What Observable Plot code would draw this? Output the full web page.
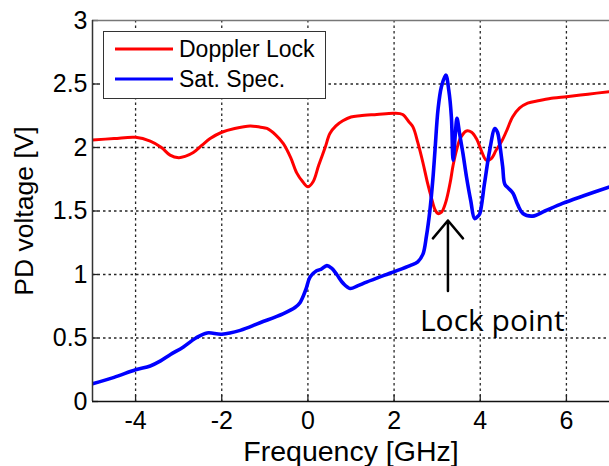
<!DOCTYPE html>
<html>
<head>
<meta charset="utf-8">
<script src="https://cdn.jsdelivr.net/npm/d3@7"></script>
<script src="https://cdn.jsdelivr.net/npm/@observablehq/plot@0.6"></script>
<style>
  html, body { margin: 0; padding: 0; background: #fff; }
  #chart svg { display: block; }
</style>
</head>
<body>
<div id="chart"></div>
<script>
// Doppler Lock (red) trace: [frequency GHz, PD voltage V]
const dopplerX = [-5.0,-4.5,-4.0,-3.66,-3.4,-3.2,-3.0,-2.85,-2.66,-2.45,-2.27,-2.0,-1.7,-1.34,-1.1,-0.95,-0.75,-0.57,-0.4,-0.26,-0.12,0.0,0.12,0.25,0.4,0.51,0.65,0.81,1.0,1.21,1.6,2.0,2.2,2.35,2.44,2.55,2.67,2.77,2.87,2.95,3.02,3.1,3.2,3.3,3.37,3.45,3.55,3.68,3.8,3.91,4.02,4.14,4.25,4.37,4.5,4.61,4.75,4.91,5.1,5.38,5.7,6.0,6.5,7.0];
const dopplerY = [2.06,2.07,2.08,2.05,2.0,1.94,1.92,1.93,1.96,2.02,2.07,2.12,2.15,2.17,2.16,2.15,2.1,2.03,1.92,1.8,1.73,1.69,1.73,1.86,2.0,2.11,2.17,2.21,2.24,2.25,2.26,2.27,2.26,2.2,2.16,2.04,1.88,1.73,1.6,1.51,1.48,1.49,1.57,1.72,1.86,1.98,2.08,2.13,2.12,2.07,1.98,1.9,1.91,1.98,2.05,2.13,2.24,2.31,2.35,2.37,2.39,2.4,2.42,2.44];

// Sat. Spec. (blue) trace
const satX = [-5.0,-4.5,-4.0,-3.66,-3.42,-3.19,-2.89,-2.6,-2.34,-2.0,-1.57,-1.11,-0.58,-0.3,-0.18,-0.05,0.05,0.2,0.3,0.44,0.55,0.67,0.82,0.98,1.15,1.36,1.9,2.37,2.55,2.67,2.75,2.83,2.9,2.95,3.02,3.1,3.2,3.27,3.33,3.37,3.42,3.46,3.52,3.6,3.68,3.78,3.87,3.95,3.99,4.1,4.22,4.34,4.4,4.45,4.52,4.57,4.65,4.76,4.87,4.99,5.22,5.5,5.91,6.4,7.0];
const satY = [0.14,0.19,0.25,0.28,0.32,0.37,0.43,0.5,0.54,0.53,0.56,0.62,0.69,0.74,0.78,0.88,0.98,1.03,1.04,1.07,1.05,1.0,0.93,0.89,0.91,0.94,1.01,1.07,1.1,1.16,1.3,1.5,1.75,1.98,2.3,2.48,2.57,2.45,2.24,1.9,2.1,2.23,2.11,1.95,1.77,1.58,1.44,1.46,1.48,1.72,1.98,2.15,2.12,2.03,1.85,1.71,1.68,1.64,1.55,1.48,1.46,1.5,1.56,1.62,1.69];

// Axis ticks
const xTicks = [-4, -2, 0, 2, 4, 6];
const yTicks = [0, 0.5, 1, 1.5, 2, 2.5, 3];
const xGrid = [-4, -2, 0, 2, 4, 6];
const yGrid = [0.5, 1, 1.5, 2, 2.5];

// Series names and colours
const seriesNames = ["Doppler Lock", "Sat. Spec."];
const seriesColors = ["#ff0000", "#0000ff"];

// Annotation (data coordinates)
const lockArrow = [{x1: 3.25, y1: 0.87, x2: 3.25, y2: 1.425}];
const lockLabel = [{x: 2.6, y: 0.63, text: "Lock point"}];

const doppler = dopplerX.map((x, i) => ({x, y: dopplerY[i]}));
const sat = satX.map((x, i) => ({x, y: satY[i]}));

const W = 609, H = 466;
const mL = 92, mR = 0, mT = 20, mB = 65;
const innerW = W - mL - mR, innerH = H - mT - mB;
const tickLen = 6;
const font = "Arial, 'Liberation Sans', sans-serif";

const plot = Plot.plot({
  width: W,
  height: H,
  marginLeft: mL,
  marginRight: mR,
  marginTop: mT,
  marginBottom: mB,
  style: {fontFamily: font, fontSize: "25px", background: "white", color: "black", overflow: "visible"},
  x: {domain: [-5, 7], label: null},
  y: {domain: [0, 3], label: null},
  marks: [
    Plot.ruleX(xGrid, {x: d => d, stroke: "#000", strokeWidth: 1.3, strokeOpacity: 0.85, strokeDasharray: "2.5,3"}),
    Plot.ruleY(yGrid, {y: d => d, stroke: "#000", strokeWidth: 1.3, strokeOpacity: 0.85, strokeDasharray: "2.5,3"}),
    Plot.ruleX(xTicks, {x: d => d, stroke: "#222", strokeWidth: 1.3, insetTop: innerH - tickLen}),
    Plot.ruleY(yTicks, {y: d => d, stroke: "#222", strokeWidth: 1.3, insetRight: innerW - tickLen}),
    Plot.ruleY([3], {y: d => d, stroke: "#777", strokeWidth: 1.3}),
    Plot.line(doppler, {x: "x", y: "y", stroke: seriesColors[0], strokeWidth: 3, curve: "catmull-rom", clip: true}),
    Plot.line(sat, {x: "x", y: "y", stroke: seriesColors[1], strokeWidth: 3.6, curve: "catmull-rom", clip: true}),
    Plot.ruleX([-5], {stroke: "#333", strokeWidth: 1.5}),
    Plot.ruleY([0], {stroke: "#111", strokeWidth: 1.5}),
    Plot.axisY(yTicks, {anchor: "left", tickSize: 0, tickPadding: 5, tickFormat: d => String(d), fontSize: 25}),
    Plot.axisX(xTicks, {anchor: "bottom", tickSize: 0, tickPadding: 10, tickFormat: d => String(d), fontSize: 25}),
    Plot.arrow(lockArrow, {x1: "x1", y1: "y1", x2: "x2", y2: "y2", stroke: "black", strokeWidth: 2.5, headLength: 14, headAngle: 80}),
    Plot.text(lockLabel, {x: "x", y: "y", text: "text", textAnchor: "start", lineAnchor: "middle", fontSize: 30, fontFamily: "'Open Sans', sans-serif", fill: "black"}),
    Plot.text(["Frequency [GHz]"], {frameAnchor: "bottom", textAnchor: "middle", lineAnchor: "middle", dy: 50, fontSize: 28.5, fill: "black"}),
    Plot.text(["PD voltage [V]"], {frameAnchor: "left", rotate: -90, textAnchor: "middle", lineAnchor: "middle", dx: -68, fontSize: 26.5, fill: "black"})
  ]
});

// Legend box inside the plot area (top-left), as in the reference
const svg = d3.select(plot);
const lg = svg.append("g").attr("font-family", font).attr("font-size", 23).attr("text-anchor", "start");
lg.append("rect").attr("x", 103.5).attr("y", 31.5).attr("width", 222).attr("height", 67)
  .attr("fill", "white").attr("stroke", "#333").attr("stroke-width", 1);
seriesNames.forEach((name, i) => {
  const cy = 49 + i * 30;
  lg.append("line").attr("x1", 115).attr("x2", 173).attr("y1", cy).attr("y2", cy)
    .attr("stroke", seriesColors[i]).attr("stroke-width", 3);
  lg.append("text").attr("x", 179).attr("y", cy + 8).attr("fill", "black")
    .attr("text-anchor", "start").text(name);
});

document.getElementById("chart").appendChild(plot);
</script>
</body>
</html>
